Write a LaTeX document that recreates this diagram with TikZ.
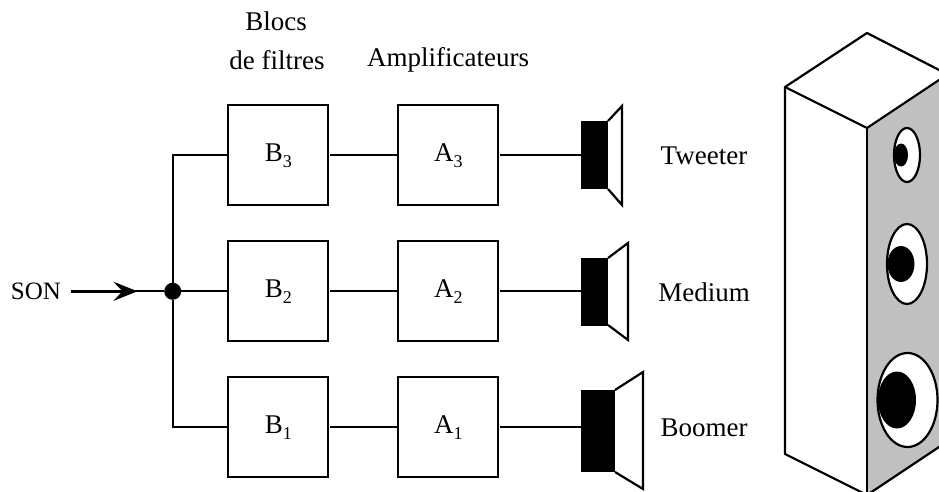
\documentclass[tikz,border=0pt]{standalone}
\usepackage{fontspec}
\setmainfont{Liberation Serif}
\usetikzlibrary{arrows.meta}
\newcommand{\lowsub}[1]{\raisebox{-0.22em}{\fontsize{18}{20}\selectfont #1}}
\tikzset{
  x=1pt,y=-1pt,
  wire/.style={line width=2pt},
  outwire/.style={line width=2pt,shorten <=1.5pt},
  blockbox/.style={draw=black,line width=2pt,fill=white,minimum width=100pt,minimum height=100pt,inner sep=0pt,outer sep=0pt,font=\fontsize{27}{28}\selectfont},
  label/.style={inner sep=0pt,font=\fontsize{27}{29}\selectfont,anchor=center},
  magnet/.style={fill=black,draw=none,inner sep=0pt,outer sep=0pt},
  cone/.style={draw=black,line width=2.2pt,fill=white,line join=miter},
  cab/.style={draw=black,line width=2.2pt,line join=round},
  rim/.style={draw=black,line width=2.2pt,fill=white},
  core/.style={fill=black,draw=none},
}
\begin{document}
\begin{tikzpicture}
\useasboundingbox (0,0) rectangle (939,492);
% texts
\node[label,font=\fontsize{25}{29}\selectfont] (son) at (36,291) {SON};
\node[label] (t1) at (276,21) {Blocs};
\node[label] (t2) at (277,60) {de filtres};
\node[label] (t3) at (448,60) {Amplificateurs};
\node[label] (tw) at (704,156) {Tweeter};
\node[label] (me) at (704,292) {Medium};
\node[label] (bo) at (704,428) {Boomer};
% junction
\node[circle,fill=black,inner sep=0pt,minimum size=17pt] (j) at (172.7,291.3) {};
\coordinate (arrowstart) at (71,291.3);
\coordinate (arrowend) at (137.5,291.3);
% blocks
\node[blockbox] (b3) at (278.3,155.3) {B\lowsub{3}};
\node[blockbox] (b2) at (278.3,291.3) {B\lowsub{2}};
\node[blockbox] (b1) at (278.3,427.3) {B\lowsub{1}};
\node[blockbox] (a3) at (448.3,155.3) {A\lowsub{3}};
\node[blockbox] (a2) at (448.3,291.3) {A\lowsub{2}};
\node[blockbox] (a1) at (448.3,427.3) {A\lowsub{1}};
% speakers
\draw[cone] (608,121) -- (622,106) -- (622,205) -- (608,189);
\draw[cone] (608,258) -- (628,243) -- (628,340) -- (608,325);
\draw[cone] (615,390) -- (643,372) -- (643,489) -- (615,472);
\node[magnet,minimum width=27pt,minimum height=68pt] (s3) at (594.5,155) {};
\node[magnet,minimum width=27pt,minimum height=68pt] (s2) at (594.5,291.5) {};
\node[magnet,minimum width=34pt,minimum height=82pt] (s1) at (598,431) {};
% connectors
\draw[wire] (arrowstart) -- (j);
\draw[line width=2.8pt,-{Stealth[length=24pt,width=19pt,inset=9pt]}] (arrowstart) -- (arrowend);
\draw[wire] (j) -- (b2);
\draw[wire] (j) |- (b3);
\draw[wire] (j) |- (b1);
\draw[outwire] (b3) -- (a3);
\draw[outwire] (b2) -- (a2);
\draw[outwire] (b1) -- (a1);
\draw[outwire] (a3.east) -- (a3.east -| s3.west);
\draw[outwire] (a2.east) -- (a2.east -| s2.west);
\draw[outwire] (a1.east) -- (a1.east -| s1.west);
% cabinet
\begin{scope}
\clip (0,0) rectangle (939,492);
\fill[fill={rgb,255:red,192;green,192;blue,192}] (867,128) -- (945,76) -- (945,443) -- (867,495) -- cycle;
\draw[cab] (867,128) -- (785,87) -- (867,33) -- (945,73);
\draw[cab] (867,128) -- (945,76);
\draw[cab] (785,87) -- (785,454) -- (867,495) -- (945,443);
\draw[cab] (867,128) -- (867,495);
\draw[rim] (907,155) ellipse [x radius=13,y radius=27];
\fill[core] (901,155) ellipse [x radius=7,y radius=11.5];
\draw[rim] (907,264) ellipse [x radius=20,y radius=40];
\fill[core] (901,264) ellipse [x radius=13.5,y radius=18];
\draw[rim] (907.5,400) ellipse [x radius=30,y radius=47];
\fill[core] (897,400) ellipse [x radius=19,y radius=28.5];
\end{scope}
\end{tikzpicture}
\end{document}
